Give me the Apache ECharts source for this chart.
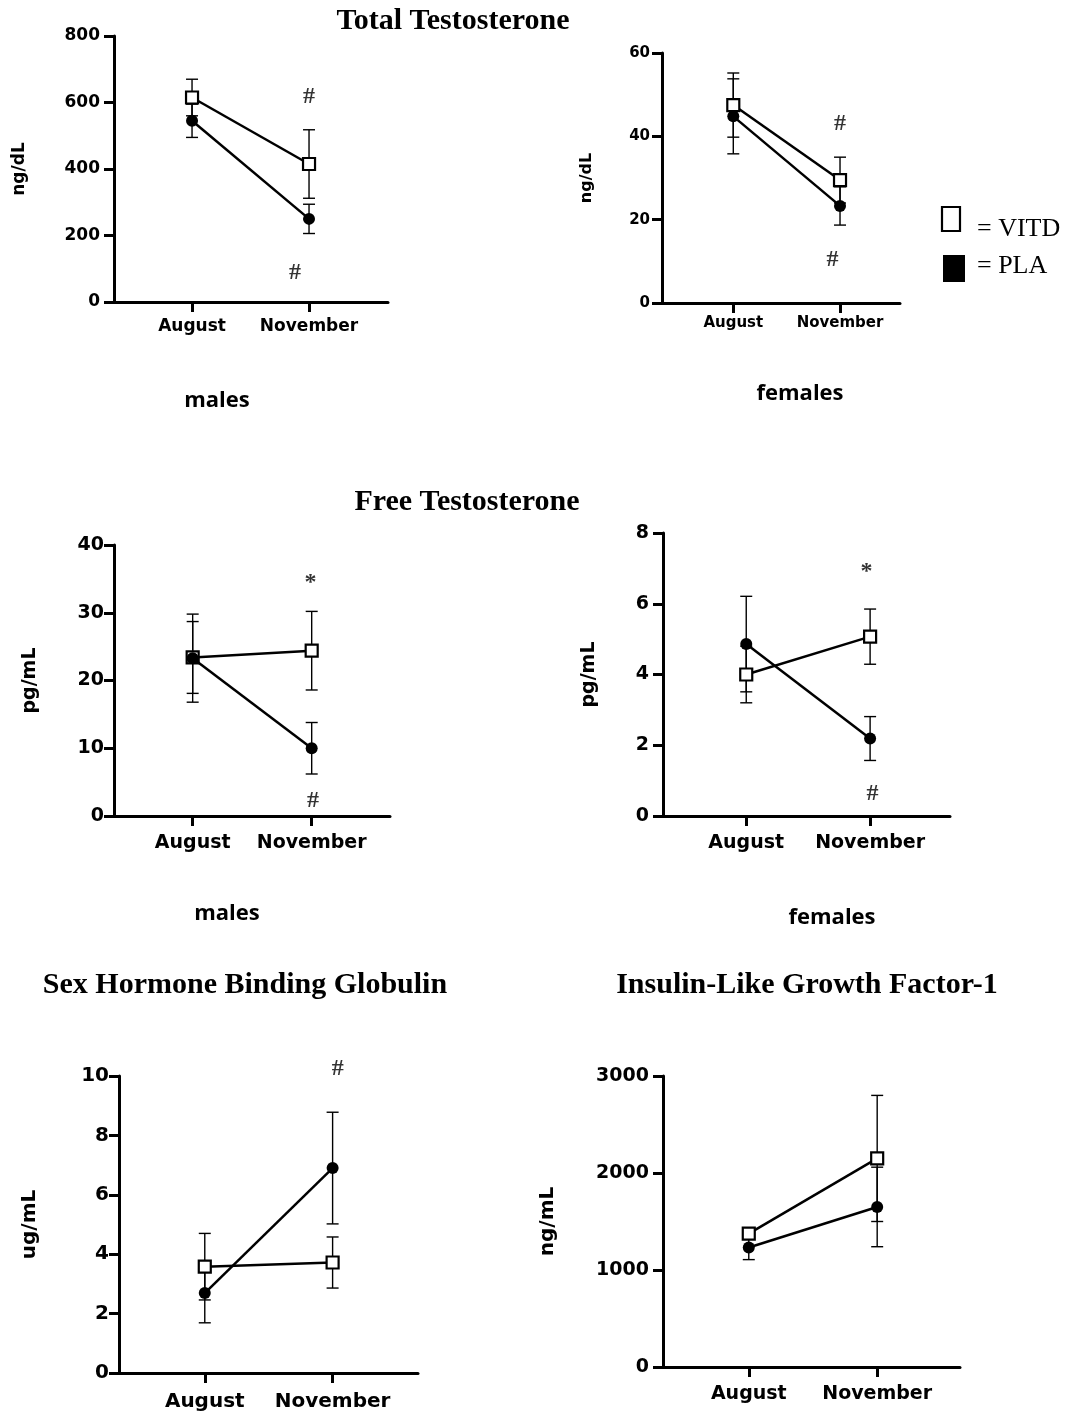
<!DOCTYPE html>
<html>
<head>
<meta charset="utf-8">
<title>Testosterone, SHBG and IGF-1: August vs November</title>
<script src="https://cdn.jsdelivr.net/npm/echarts@6/dist/echarts.min.js"></script>
<style>
  html, body { margin: 0; padding: 0; background: #fff; }
  #chart { width: 1086px; height: 1416px; }
</style>
</head>
<body>
<div id="chart"></div>
<script>
// Time points
const months = ['August', 'November'];

// Total testosterone, males (ng/dL): mean and error
const ttMaleVitd = [615, 415];
const ttMaleVitdErr = [55, 103];
const ttMalePla = [545, 250];
const ttMalePlaErr = [50, 44];

// Total testosterone, females (ng/dL)
const ttFemVitd = [47.5, 29.5];
const ttFemVitdErr = [7.7, 5.5];
const ttFemPla = [44.8, 23.3];
const ttFemPlaErr = [9.0, 4.6];

// Free testosterone, males (pg/mL)
const ftMaleVitd = [23.4, 24.4];
const ftMaleVitdErr = [5.3, 5.8];
const ftMalePla = [23.3, 10.0];
const ftMalePlaErr = [6.5, 3.8];

// Free testosterone, females (pg/mL)
const ftFemVitd = [4.0, 5.07];
const ftFemVitdErr = [0.8, 0.78];
const ftFemPla = [4.86, 2.19];
const ftFemPlaErr = [1.35, 0.62];

// Sex hormone binding globulin (ug/mL)
const shbgVitd = [3.58, 3.72];
const shbgVitdErr = [1.12, 0.86];
const shbgPla = [2.69, 6.9];
const shbgPlaErr = [1.0, 1.88];

// Insulin-like growth factor-1 (ng/mL)
const igfVitd = [1375, 2150];
const igfVitdErr = [40, 650];
const igfPla = [1232, 1650];
const igfPlaErr = [125, 410];

// Significance marks: [x position, y value, symbol]
const ttMaleMarks = [[1.0, 617, '#'], [0.88, 88, '#']];
const ttFemMarks = [[1.0, 43, '#'], [0.93, 10.3, '#']];
const ftMaleMarks = [[0.99, 34.4, '*'], [1.01, 2.3, '#']];
const ftFemMarks = [[0.97, 6.9, '*'], [1.02, 0.63, '#']];
const shbgMarks = [[1.04, 10.25, '#']];
const igfMarks = [];

// Axis units and y ranges
const units = ['ng/dL', 'ng/dL', 'pg/mL', 'pg/mL', 'ug/mL', 'ng/mL'];
const yMaxes = [800, 60, 40, 8, 10, 3000];
const yIntervals = [200, 20, 10, 2, 2, 1000];

const panelData = [
  { vitd: ttMaleVitd, vitdErr: ttMaleVitdErr, pla: ttMalePla, plaErr: ttMalePlaErr, marks: ttMaleMarks },
  { vitd: ttFemVitd, vitdErr: ttFemVitdErr, pla: ttFemPla, plaErr: ttFemPlaErr, marks: ttFemMarks },
  { vitd: ftMaleVitd, vitdErr: ftMaleVitdErr, pla: ftMalePla, plaErr: ftMalePlaErr, marks: ftMaleMarks },
  { vitd: ftFemVitd, vitdErr: ftFemVitdErr, pla: ftFemPla, plaErr: ftFemPlaErr, marks: ftFemMarks },
  { vitd: shbgVitd, vitdErr: shbgVitdErr, pla: shbgPla, plaErr: shbgPlaErr, marks: shbgMarks },
  { vitd: igfVitd, vitdErr: igfVitdErr, pla: igfPla, plaErr: igfPlaErr, marks: igfMarks }
];

// Panel geometry and typography
const layouts = [
  { grid: { left: 114, top: 36, width: 274, height: 266 }, xMin: -0.667, xMax: 1.675, tick: 17, name: 17, nameGap: 86, yMargin: 14, xMargin: 16 },
  { grid: { left: 662, top: 53, width: 238, height: 250 }, xMin: -0.668, xMax: 1.562, tick: 15, name: 16, nameGap: 67, yMargin: 12, xMargin: 13 },
  { grid: { left: 114, top: 545, width: 276, height: 271 }, xMin: -0.661, xMax: 1.658, tick: 19, name: 19, nameGap: 74, yMargin: 10, xMargin: 18 },
  { grid: { left: 663, top: 533, width: 287, height: 283 }, xMin: -0.672, xMax: 1.645, tick: 19, name: 19, nameGap: 64, yMargin: 14, xMargin: 18 },
  { grid: { left: 119, top: 1076, width: 299, height: 297 }, xMin: -0.671, xMax: 1.668, tick: 20, name: 20, nameGap: 79, yMargin: 10, xMargin: 19 },
  { grid: { left: 663, top: 1076, width: 297, height: 291 }, xMin: -0.668, xMax: 1.645, tick: 19, name: 20, nameGap: 105, yMargin: 14, xMargin: 18 }
];

const axisFont = 'DejaVu Sans';
const black = '#000';

function toPoints(vals) {
  return vals.map((v, i) => [i, v]);
}
function toErr(vals, errs) {
  return vals.map((v, i) => [i, v, errs[i]]);
}

// Vertical error bar with caps, positioned through the axis scales
function renderErrorBar(params, api) {
  const x = api.value(0), y = api.value(1), e = api.value(2);
  const top = api.coord([x, y + e]);
  const bot = api.coord([x, y - e]);
  const cap = 6;
  const style = { stroke: black, lineWidth: 1.4 };
  return {
    type: 'group',
    children: [
      { type: 'line', shape: { x1: top[0], y1: top[1], x2: bot[0], y2: bot[1] }, style },
      { type: 'line', shape: { x1: top[0] - cap, y1: top[1], x2: top[0] + cap, y2: top[1] }, style },
      { type: 'line', shape: { x1: bot[0] - cap, y1: bot[1], x2: bot[0] + cap, y2: bot[1] }, style }
    ]
  };
}

const grids = [], xAxes = [], yAxes = [], series = [];

layouts.forEach((L, p) => {
  grids.push(Object.assign({ containLabel: false }, L.grid));
  xAxes.push({
    type: 'value',
    gridIndex: p,
    min: L.xMin,
    max: L.xMax,
    splitLine: { show: false },
    axisLine: { show: true, onZero: false, lineStyle: { color: black, width: 3 } },
    axisTick: { show: true, customValues: [0, 1], length: 10, lineStyle: { color: black, width: 3 } },
    axisLabel: {
      customValues: [0, 1],
      formatter: v => months[Math.round(v)],
      margin: L.xMargin,
      color: black,
      fontFamily: axisFont,
      fontWeight: 'bold',
      fontSize: L.tick
    }
  });
  yAxes.push({
    type: 'value',
    gridIndex: p,
    min: 0,
    max: yMaxes[p],
    interval: yIntervals[p],
    name: units[p],
    nameLocation: 'middle',
    nameGap: L.nameGap,
    nameTextStyle: { color: black, fontFamily: axisFont, fontWeight: 'bold', fontSize: L.name },
    splitLine: { show: false },
    axisLine: { show: true, onZero: false, lineStyle: { color: black, width: 3 } },
    axisTick: { show: true, length: 10, lineStyle: { color: black, width: 3 } },
    axisLabel: {
      margin: L.yMargin, color: black, fontFamily: axisFont, fontWeight: 'bold', fontSize: L.tick,
      formatter: v => String(v)
    }
  });

  const d = panelData[p];
  series.push({
    type: 'custom', name: 'VITD', xAxisIndex: p, yAxisIndex: p,
    renderItem: renderErrorBar, data: toErr(d.vitd, d.vitdErr), z: 2, silent: true
  });
  series.push({
    type: 'custom', name: 'PLA', xAxisIndex: p, yAxisIndex: p,
    renderItem: renderErrorBar, data: toErr(d.pla, d.plaErr), z: 2, silent: true
  });
  series.push({
    type: 'line', name: 'VITD', xAxisIndex: p, yAxisIndex: p,
    data: toPoints(d.vitd),
    symbol: 'rect', symbolSize: 12, showAllSymbol: true,
    itemStyle: { color: '#fff', borderColor: black, borderWidth: 2.2 },
    lineStyle: { color: black, width: 2.5 },
    z: 3, animation: false
  });
  series.push({
    type: 'line', name: 'PLA', xAxisIndex: p, yAxisIndex: p,
    data: toPoints(d.pla),
    symbol: 'circle', symbolSize: 12, showAllSymbol: true,
    itemStyle: { color: black, borderWidth: 0 },
    lineStyle: { color: black, width: 2.5 },
    z: 4, animation: false
  });
  if (d.marks.length) {
    series.push({
      type: 'scatter', xAxisIndex: p, yAxisIndex: p,
      data: d.marks.map(m => ({ value: [m[0], m[1]], label: { formatter: m[2] } })),
      symbolSize: 0, clip: false, silent: true, z: 5,
      label: {
        show: true, position: 'inside', color: black,
        fontFamily: 'Liberation Serif', fontWeight: 'bold', fontSize: 24
      }
    });
  }
});

// Headings, group captions and the key
const serif = 'Liberation Serif';
const caption = 'Open Sans';
function heading(text, x, y) {
  return { type: 'text', x, y, style: { text, fill: black, font: `bold 30px "${serif}"`, textAlign: 'center', textVerticalAlign: 'middle' } };
}
function groupLabel(text, x, y) {
  return { type: 'text', x, y, style: { text, fill: black, font: `bold 22px "${caption}"`, textAlign: 'center', textVerticalAlign: 'middle' } };
}

const graphics = [
  heading('Total Testosterone', 453, 21),
  heading('Free Testosterone', 467, 502),
  heading('Sex Hormone Binding Globulin', 245, 985),
  heading('Insulin-Like Growth Factor-1', 807, 985),
  groupLabel('males', 217, 401),
  groupLabel('females', 800, 394),
  groupLabel('males', 227, 914),
  groupLabel('females', 832, 918),
  { type: 'rect', shape: { x: 942, y: 207, width: 18, height: 24 }, style: { fill: '#fff', stroke: black, lineWidth: 2.2 } },
  { type: 'text', x: 977, y: 229, style: { text: '= VITD', fill: black, font: `26px "${serif}"`, textVerticalAlign: 'middle' } },
  { type: 'rect', shape: { x: 943, y: 255, width: 22, height: 27 }, style: { fill: black } },
  { type: 'text', x: 977, y: 266, style: { text: '= PLA', fill: black, font: `26px "${serif}"`, textVerticalAlign: 'middle' } }
];

const chart = echarts.init(document.getElementById('chart'), null, { renderer: 'canvas' });
chart.setOption({
  backgroundColor: '#fff',
  animation: false,
  grid: grids,
  xAxis: xAxes,
  yAxis: yAxes,
  series: series,
  graphic: graphics
});
</script>
</body>
</html>
